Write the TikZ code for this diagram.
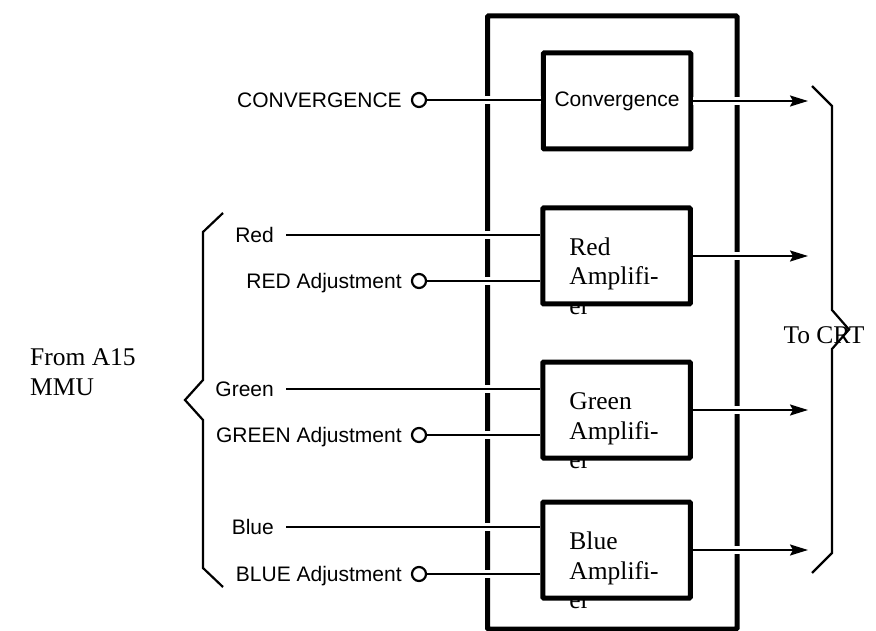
\documentclass[tikz,border=0pt]{standalone}
\usepackage{fontspec}
\setmainfont{Liberation Serif}
\newfontfamily\helv{Liberation Sans}
\usetikzlibrary{arrows.meta,positioning}

\begin{document}
\begin{tikzpicture}[x=1pt, y=-1pt,
  frame/.style={draw, line width=5pt, rounded corners=1pt},
  block/.style={draw, line width=5pt, minimum width=147.5pt, minimum height=96pt, inner sep=0pt, rounded corners=1pt, font=\helv\fontsize{21}{25}\selectfont},
  blocktext/.style={font=\fontsize{25.5}{29.5}\selectfont, align=left, inner sep=0pt, anchor=base west},
  port/.style={circle, draw, line width=2.2pt, minimum size=14pt, inner sep=0pt},
  tag/.style={font=\helv\fontsize{21}{25}\selectfont, inner sep=0pt, text height=15pt, text depth=0pt},
  source/.style={tag, anchor=east, inner xsep=12pt},
  sig/.style={line width=2.2pt, preaction={draw=white, line width=8pt, -}},
  sigout/.style={sig, -{Stealth[length=18pt, width=11pt, inset=3pt]}},
  brace/.style={line width=2.2pt},
  caption/.style={font=\fontsize{25.5}{30}\selectfont, inner sep=0pt}]

\useasboundingbox (0,0) rectangle (876,631);

\draw[frame] (487.5,16) rectangle (737,629);

\node[block] (conv) at (617,101) {Convergence};

\node[block] (ramp) at (616.5,256) {};
\node[blocktext] (rtext) at ([xshift=29pt, yshift=-109pt]ramp.north west) {Red\\Amplifi-\\er};

\node[block] (gamp) at (616.5,410) {};
\node[blocktext] (gtext) at ([xshift=29pt, yshift=-109pt]gamp.north west) {Green\\Amplifi-\\er};

\node[block] (bamp) at (616.5,550) {};
\node[blocktext] (btext) at ([xshift=29pt, yshift=-109pt]bamp.north west) {Blue\\Amplifi-\\er};

\node[port] (cport) at (419,100) {};
\node[tag, left=9pt of cport] (clabel) {CONVERGENCE};

\node[source] (rsrc) at (286,235) {Red};
\node[port] (rport) at (419,281) {};
\node[tag, left=9pt of rport] (rlabel) {RED Adjustment};

\node[source] (gsrc) at (286,389) {Green};
\node[port] (gport) at (419,435) {};
\node[tag, left=9pt of gport] (glabel) {GREEN Adjustment};

\node[source] (bsrc) at (286,527) {Blue};
\node[port] (bport) at (419,574) {};
\node[tag, left=9pt of bport] (blabel) {BLUE Adjustment};

\coordinate (crt) at (808,0);

\draw[sig] (cport) -- (conv.west |- cport);
\draw[sig] (rsrc.east) -- (ramp.west |- rsrc);
\draw[sig] (rport) -- (ramp.west |- rport);
\draw[sig] (gsrc.east) -- (gamp.west |- gsrc);
\draw[sig] (gport) -- (gamp.west |- gport);
\draw[sig] (bsrc.east) -- (bamp.west |- bsrc);
\draw[sig] (bport) -- (bamp.west |- bport);

\draw[sigout] (conv) -- (conv -| crt);
\draw[sigout] (ramp) -- (ramp -| crt);
\draw[sigout] (gamp) -- (gamp -| crt);
\draw[sigout] (bamp) -- (bamp -| crt);

\draw[brace] (223,213) -- (203,232) -- (203,380) -- (185,400) -- (203,420) -- (203,568) -- (223,587);
\draw[brace] (812,86) -- (832,106) -- (832,310) -- (849,329.5) -- (832,349) -- (832,553) -- (812,573);

\node[caption, align=left, anchor=base west] (mmu) at (30,395) {From A15\\MMU};
\node[caption, anchor=base] (tocrt) at (824,343) {To CRT};

\end{tikzpicture}
\end{document}
